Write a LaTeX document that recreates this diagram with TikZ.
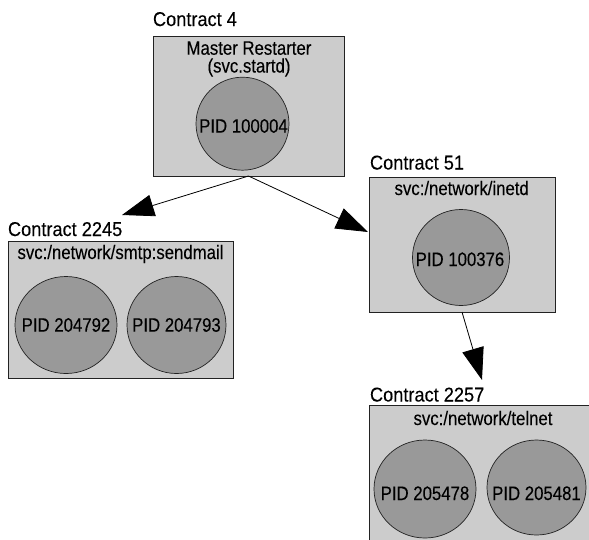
\documentclass[tikz,border=0pt]{standalone}
\usepackage{fontspec}
\setmainfont{Liberation Sans}[FakeStretch=0.86,FakeBold=0.15]
\newfontfamily\labelfont{Liberation Sans}[FakeStretch=0.91,FakeBold=0.15]
\usetikzlibrary{arrows.meta}
\definecolor{boxfill}{HTML}{CCCCCC}
\definecolor{pidfill}{HTML}{999999}
\definecolor{edge}{HTML}{222222}
\begin{document}
\begin{tikzpicture}[x=1pt,y=-1pt,
  every node/.style={font=\fontsize{19.5}{21}\selectfont, inner sep=0pt, outer sep=0pt},
  cbox/.style={draw=edge, line width=0.8pt, fill=boxfill, rectangle},
  pid/.style={draw=edge, line width=0.7pt, fill=pidfill},
  ctext/.style={anchor=base west, font=\labelfont\fontsize{20}{22}\selectfont},
  stext/.style={anchor=base},
  link/.style={draw=black, line width=0.8pt, -{Triangle[length=32pt,width=22pt]}}
]
\useasboundingbox (0,0) rectangle (589,539);
% boxes
\node[cbox, minimum width=191pt, minimum height=140pt] (b4) at (248.5,106) {};
\node[cbox, minimum width=225pt, minimum height=137pt] (b2245) at (120.5,309.5) {};
\node[cbox, minimum width=186pt, minimum height=135pt] (b51) at (462,244.5) {};
\node[cbox, minimum width=225pt, minimum height=140pt] (b2257) at (481.5,475) {};
% circles
\draw[pid] (242.5,123.7) ellipse [x radius=46.5, y radius=46.5];
\draw[pid] (66,325) ellipse [x radius=51, y radius=48.5];
\draw[pid] (176.5,325) ellipse [x radius=49.5, y radius=48.5];
\draw[pid] (461,257.5) ellipse [x radius=48.5, y radius=48];
\draw[pid] (425,489) ellipse [x radius=51, y radius=49];
\draw[pid] (536.5,487.5) ellipse [x radius=49.5, y radius=47.5];
% contract labels
\node[ctext] (l4) at (153,26) {Contract 4};
\node[ctext] (l2245) at (8,236) {Contract 2245};
\node[ctext] (l51) at (370,169.5) {Contract 51};
\node[ctext] (l2257) at (370,401.5) {Contract 2257};
% service labels
\node[stext] (s4a) at (249,54.7) {Master Restarter};
\node[stext] (s4b) at (249,72.5) {(svc.startd)};
\node[stext] (s2245) at (120.5,259) {svc:/network/smtp:sendmail};
\node[stext] (s51) at (461.7,195) {svc:/network/inetd};
\node[stext] (s2257) at (483,425) {svc:/network/telnet};
% pid labels
\node[stext] (p1) at (243.5,132.7) {PID 100004};
\node[stext] (p2) at (66,331.7) {PID 204792};
\node[stext] (p3) at (176.5,331.7) {PID 204793};
\node[stext] (p4) at (460,266) {PID 100376};
\node[stext] (p5) at (425,500) {PID 205478};
\node[stext] (p6) at (536.5,500) {PID 205481};
% arrows
\coordinate (t1) at (122,215);
\coordinate (t2) at (368,232);
\coordinate (t3) at (482,380);
\draw[link] (b4.south) -- (t1);
\draw[link] (b4.south) -- (t2);
\draw[link] (b51.south) -- (t3);
\end{tikzpicture}
\end{document}
